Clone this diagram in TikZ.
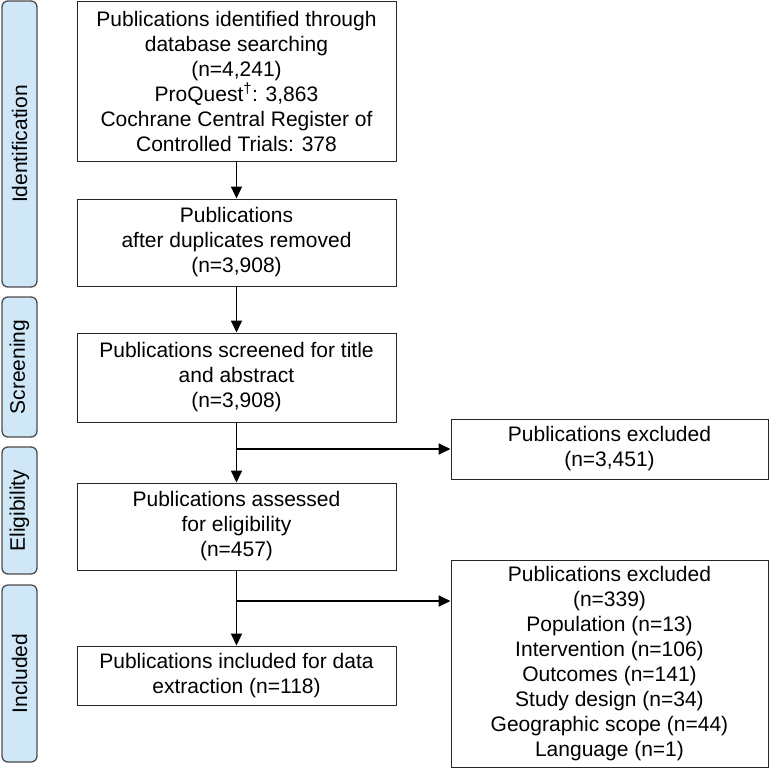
\documentclass[tikz,border=0pt]{standalone}
\usepackage{fontspec}
\setmainfont{Liberation Sans}
\usetikzlibrary{arrows.meta}

\definecolor{azulfase}{HTML}{CFE7F7}

\tikzset{
  caja/.style={draw=black!85, line width=1pt, align=center, inner sep=0pt,
    font=\fontsize{21}{25}\selectfont},
  fase/.style={draw=black!70, fill=azulfase, rounded corners=6pt, line width=1.3pt,
    rotate=90, inner sep=0pt, minimum height=35pt, font=\fontsize{21}{25}\selectfont},
  flecha/.style={line width=1.8pt, -{Triangle[length=12pt,width=11pt]}}
}

\begin{document}
\begin{tikzpicture}[x=1pt,y=-1pt]
\useasboundingbox (0,0) rectangle (770,769);

%Fases
\node[fase, minimum width=286pt] (fid) at (19.5,144) {Identification};
\node[fase, minimum width=140pt] (fscr) at (19.5,367) {Screening};
\node[fase, minimum width=127pt] (feli) at (19.5,510.5) {Eligibility};
\node[fase, minimum width=177pt] (finc) at (19.5,673.5) {Included};

%Cajas
\node[caja, minimum width=319pt, minimum height=160pt] (ident) at (236.5,81)
  {Publications identified through\\database searching\\(n=4,241)\\
   ProQuest\textsuperscript{\textdagger}: 3,863\\Cochrane Central Register of\\Controlled Trials: 378};
\node[caja, minimum width=319pt, minimum height=87pt] (dup) at (236.5,242.5)
  {Publications\\after duplicates removed\\(n=3,908)};
\node[caja, minimum width=319pt, minimum height=89pt] (scr) at (236.5,377.5)
  {Publications screened for title\\and abstract\\(n=3,908)};
\node[caja, minimum width=319pt, minimum height=87pt] (eli) at (236.5,526.5)
  {Publications assessed\\for eligibility\\(n=457)};
\node[caja, minimum width=319pt, minimum height=59pt] (inc) at (236.5,675.5)
  {Publications included for data\\extraction (n=118)};

%Excluidas
\node[caja, minimum width=317pt, minimum height=60pt] (exc1) at (609.5,449)
  {Publications excluded\\(n=3,451)};
\node[caja, minimum width=317pt, minimum height=207pt] (exc2) at (609.5,663.5)
  {Publications excluded\\(n=339)\\Population (n=13)\\Intervention (n=106)\\Outcomes (n=141)\\
   Study design (n=34)\\Geographic scope (n=44)\\Language (n=1)};

%Flechas
\draw[flecha] (ident) -- (dup);
\draw[flecha] (dup) -- (scr);
\draw[flecha] (scr) -- (eli);
\draw[flecha] (eli) -- (inc);

\coordinate (j1) at (scr.south |- exc1.west);
\draw[flecha] (j1) -- (exc1.west);
\coordinate (j2) at (236.5,601);
\draw[flecha] (j2) -- (j2 -| exc2.west);
\end{tikzpicture}
\end{document}
